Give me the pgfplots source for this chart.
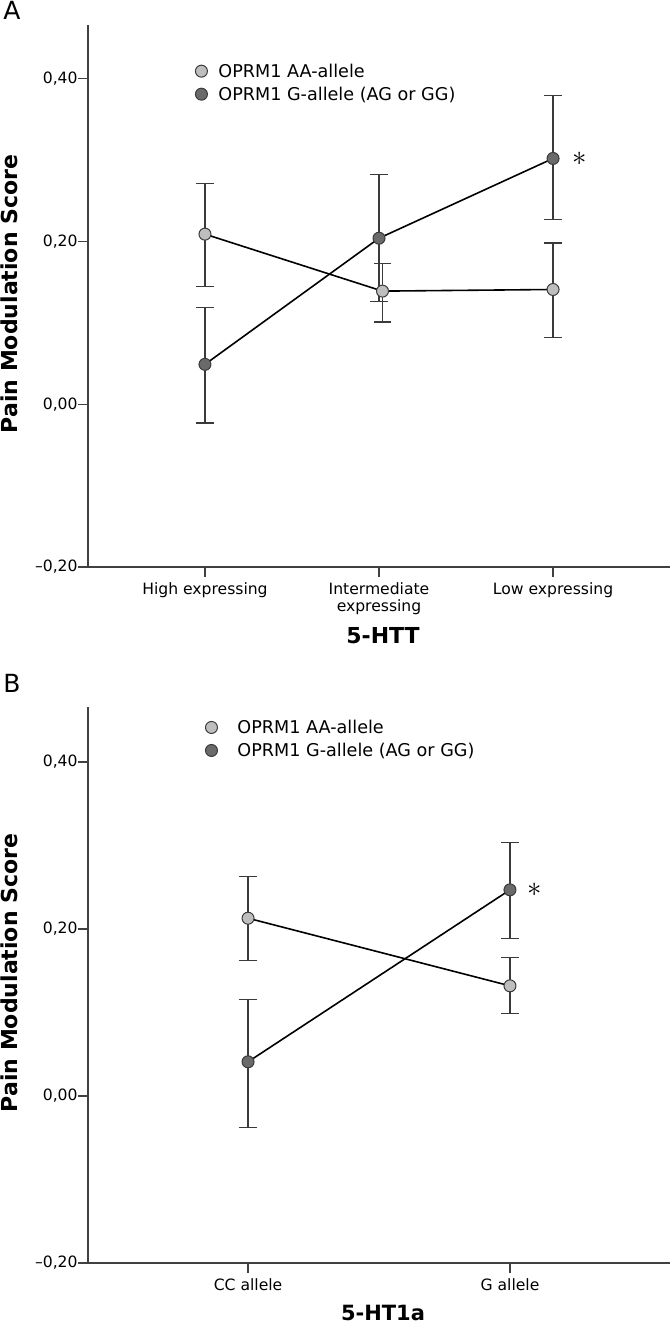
\documentclass[border=0pt]{standalone}
\usepackage{fontspec}
\setmainfont{DejaVu Sans}
\usepackage{pgfplots}
\pgfplotsset{compat=1.18}
\definecolor{lightpt}{HTML}{BEBEBE}
\definecolor{darkpt}{HTML}{6A6A6A}
\definecolor{edge}{HTML}{3A3A3A}
\definecolor{axiscol}{HTML}{404040}
\pgfplotsset{
 spss/.style={
  scale only axis, width=291pt,
  axis lines*=left,
  axis line style={axiscol, line width=0.7pt},
  tick align=outside, major tick length=5pt,
  tick style={axiscol, line width=0.7pt},
  ymin=-0.2, ymax=0.466,
  ytick={-0.2,0,0.2,0.4},
  yticklabels={{\textendash0,20},{0,00},{0,20},{0,40}},
  yticklabel style={font=\fontsize{7.8}{8}\selectfont, inner sep=0pt, anchor=east, xshift=0pt},
  xticklabel style={font=\fontsize{7.8}{8.6}\selectfont, inner sep=0pt, anchor=north, align=center, yshift=-2.5pt},
  ylabel={Pain Modulation Score},
  ylabel style={font=\fontsize{11}{12}\selectfont\bfseries, at={(axis description cs:0,0.5)}, anchor=center, yshift=39.5pt},
  xlabel style={font=\fontsize{11}{12}\selectfont\bfseries, at={(axis description cs:0.5,0)}, anchor=north, inner sep=0pt, xshift=2pt},
  clip=false,
  legend cell align=left,
  legend image code/.code={\draw[#1] plot coordinates {(0pt,1pt)};},
  error bars/y dir=both, error bars/y explicit,
  error bars/error bar style={color=edge, line width=0.7pt},
  error bars/error mark options={rotate=90, mark size=4.3pt, line width=0.7pt, color=edge},
 },
 aa/.style={black, line width=0.8pt, mark=*, mark size=3pt, mark options={fill=lightpt, draw=edge, line width=0.5pt}},
 gg/.style={black, line width=0.8pt, mark=*, mark size=3pt, mark options={fill=darkpt, draw=edge, line width=0.5pt}},
}
\begin{document}
\begin{tikzpicture}
\path[use as bounding box] (0pt,0pt) rectangle (335pt,-662.5pt);
\node[anchor=base west, inner sep=0pt, font=\fontsize{12.5}{13}\selectfont] at (1.5pt,-10pt) {A};
\node[anchor=base west, inner sep=0pt, font=\fontsize{12.5}{13}\selectfont] at (1.5pt,-346pt) {B};
% Panel A
\begin{axis}[spss, at={(44pt,-283.5pt)}, anchor=south west, height=271pt,
  xmin=-0.672, xmax=2.672, xtick={0,1,2},
  xticklabels={High expressing,{Intermediate\\expressing},Low expressing},
  xlabel={5-HTT}, xlabel style={yshift=-30pt},
  ylabel style={xshift=1pt},
  legend style={draw=none, fill=none, inner sep=0pt, at={(axis cs:-0.057,0.418)}, anchor=north west, font=\fontsize{8.8}{10}\selectfont, row sep=2.8pt, nodes={inner sep=0pt, text height=6.6pt, text depth=2.1pt}, /tikz/every odd column/.append style={column sep=5.5pt}}]
\addplot+[aa] coordinates {
 (0,0.209) += (0,0.062) -= (0,0.064)
 (1.02,0.139) += (0,0.034) -= (0,0.038)
 (2,0.141) += (0,0.057) -= (0,0.059)
};
\addlegendentry{OPRM1 AA-allele}
\addplot+[gg] coordinates {
 (0,0.049) += (0,0.070) -= (0,0.072)
 (1,0.204) += (0,0.078) -= (0,0.078)
 (2,0.302) += (0,0.077) -= (0,0.075)
};
\addlegendentry{OPRM1 G-allele (AG or GG)}
\node[xshift=13.5pt, inner sep=0pt] at (axis cs:2,0.302) {\fontsize{14}{14}\selectfont$\ast$};
\end{axis}
% Panel B
\begin{axis}[spss, at={(44pt,-631.5pt)}, anchor=south west, height=278pt,
  xmin=-0.611, xmax=1.611, xtick={0,1},
  xticklabels={CC allele,G allele},
  xlabel={5-HT1a}, xlabel style={yshift=-21pt, font=\fontsize{10.5}{11}\selectfont\bfseries},
  ylabel style={xshift=6pt},
  legend style={draw=none, fill=none, inner sep=0pt, at={(axis cs:-0.164,0.450)}, anchor=north west, font=\fontsize{8.8}{10}\selectfont, row sep=2.8pt, nodes={inner sep=0pt, text height=6.6pt, text depth=2.1pt}, /tikz/every odd column/.append style={column sep=10pt}}]
\addplot+[aa] coordinates {
 (0,0.213) += (0,0.050) -= (0,0.051)
 (1,0.132) += (0,0.034) -= (0,0.033)
};
\addlegendentry{OPRM1 AA-allele}
\addplot+[gg] coordinates {
 (0,0.041) += (0,0.075) -= (0,0.079)
 (1,0.247) += (0,0.057) -= (0,0.058)
};
\addlegendentry{OPRM1 G-allele (AG or GG)}
\node[xshift=12.5pt, inner sep=0pt] at (axis cs:1,0.247) {\fontsize{14}{14}\selectfont$\ast$};
\end{axis}
\end{tikzpicture}
\end{document}
